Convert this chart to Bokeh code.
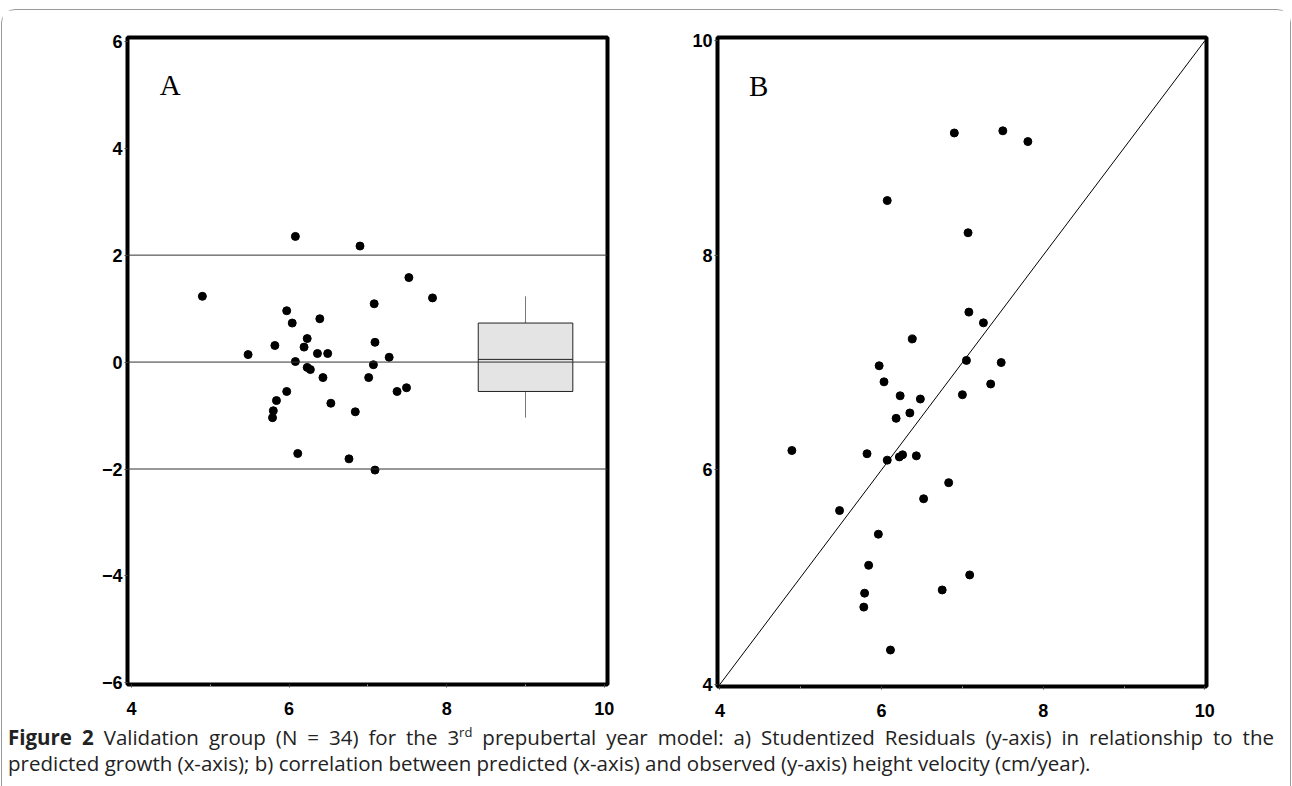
from bokeh.plotting import figure
from bokeh.layouts import row, column
from bokeh.models import FixedTicker, Span, Range1d, Div
from bokeh.core.properties import value
from bokeh.embed import file_html
from bokeh.resources import INLINE

# ---- data ----
resid_x = [6.08, 6.90, 7.52, 4.90, 7.82, 7.08, 5.97, 6.04, 6.39, 6.23, 5.82, 6.19, 7.09, 5.48, 6.36, 6.49, 7.27,
           6.08, 7.07, 6.23, 6.27, 6.43, 7.01, 5.97, 7.37, 7.49, 5.84, 6.53, 6.84, 5.80, 5.79, 6.11, 6.76, 7.09]
resid_y = [2.35, 2.17, 1.58, 1.23, 1.20, 1.09, 0.96, 0.73, 0.81, 0.44, 0.31, 0.28, 0.37, 0.14, 0.16, 0.16, 0.09,
           0.01, -0.05, -0.10, -0.14, -0.29, -0.29, -0.55, -0.55, -0.48, -0.72, -0.77, -0.93, -0.91, -1.04, -1.71,
           -1.81, -2.02]

pred_x = [6.03, 6.23, 6.48, 7.00, 7.35, 6.18, 6.35, 5.82, 6.07, 6.22, 6.26, 6.43, 6.83, 6.52, 5.96, 5.84, 7.09,
          6.75, 5.79, 5.78, 6.11, 6.90, 7.50, 7.81, 6.07, 7.07, 7.08, 7.26, 6.38, 5.97, 7.05, 7.48, 4.89, 5.48]
obs_y = [6.82, 6.69, 6.66, 6.70, 6.80, 6.48, 6.53, 6.15, 6.09, 6.12, 6.14, 6.13, 5.88, 5.73, 5.40, 5.11, 5.02,
         4.88, 4.85, 4.72, 4.32, 9.14, 9.16, 9.06, 8.51, 8.21, 7.47, 7.37, 7.22, 6.97, 7.02, 7.00, 6.18, 5.62]

# boxplot of residuals: whisker low, q1, median, q3, whisker high
box_stats = [-1.04, -0.55, 0.05, 0.73, 1.23]
box_center = 9.0
box_halfwidth = 0.6

ref_lines = [-2, 0, 2]
diag = [4, 10]

x_ticks = [4, 6, 8, 10]
x_minor = [5, 7, 9]
ya_ticks = [-6, -4, -2, 0, 2, 4, 6]
yb_ticks = [4, 6, 8, 10]

panel_labels = ["A", "B"]

caption_line1 = ("<b>Figure 2</b> Validation group (N = 34) for the 3<sup style='font-size:13px'>rd</sup> "
                 "prepubertal year model: a) Studentized Residuals (y-axis) in relationship to the")
caption_line2 = ("predicted growth (x-axis); b) correlation between predicted (x-axis) and observed (y-axis) "
                 "height velocity (cm/year).")

TICK_FONT = "Liberation Sans"


def style(p, yticks):
    p.xaxis.ticker = FixedTicker(ticks=x_ticks, minor_ticks=x_minor)
    p.yaxis.ticker = FixedTicker(ticks=yticks, minor_ticks=[])
    p.yaxis.major_label_overrides = {t: (("\u2212" + str(abs(t))) if t < 0 else str(t)) for t in yticks}
    for ax in (p.xaxis[0], p.yaxis[0]):
        ax.axis_line_color = None
        ax.major_tick_line_color = "#444444"
        ax.major_tick_line_width = 1
        ax.major_tick_out = 3
        ax.major_tick_in = 0
        ax.minor_tick_line_color = "#999999"
        ax.minor_tick_out = 2
        ax.minor_tick_in = 0
        ax.major_label_text_font = TICK_FONT
        ax.major_label_text_font_style = "bold"
        ax.major_label_text_font_size = "18px"
        ax.major_label_text_color = "black"
    p.xaxis.major_label_standoff = 14
    p.yaxis.major_label_standoff = 2
    p.xgrid.visible = False
    p.ygrid.visible = False
    p.outline_line_color = "black"
    p.outline_line_width = 4
    p.background_fill_color = "white"
    p.border_fill_color = "white"


# ---- Panel A ----
pA = figure(output_backend="svg", toolbar_location=None,
            frame_width=480, frame_height=647,
            min_border_left=125, min_border_right=53, min_border_top=27, min_border_bottom=35,
            x_range=Range1d(3.95, 10.04), y_range=Range1d(-6.03, 6.07))
style(pA, ya_ticks)
for yv in ref_lines:
    pA.add_layout(Span(location=yv, dimension="width", line_color="#333333", line_width=1))
# box plot
pA.segment(x0=[box_center, box_center], y0=[box_stats[3], box_stats[0]],
           x1=[box_center, box_center], y1=[box_stats[4], box_stats[1]],
           line_color="#777777", line_width=1)
pA.quad(left=[box_center - box_halfwidth], right=[box_center + box_halfwidth],
        bottom=[box_stats[1]], top=[box_stats[3]],
        fill_color="#e4e4e4", line_color="#222222", line_width=1)
pA.segment(x0=[box_center - box_halfwidth], y0=[box_stats[2]],
           x1=[box_center + box_halfwidth], y1=[box_stats[2]], line_color="#222222", line_width=1)
pA.scatter(resid_x, resid_y, size=8, fill_color="black", line_color="black")
pA.text(x=[4.36], y=[5.19], text=[panel_labels[0]], text_font=value("Liberation Serif"),
        text_font_size="29px", text_color="black", text_baseline="alphabetic", text_align="left")

# ---- Panel B ----
pB = figure(output_backend="svg", toolbar_location=None,
            frame_width=489, frame_height=649,
            min_border_left=57, min_border_right=84, min_border_top=25, min_border_bottom=35,
            x_range=Range1d(3.97, 10.02), y_range=Range1d(3.98, 10.03))
style(pB, yb_ticks)
pB.line(diag, diag, line_color="black", line_width=1)
pB.scatter(pred_x, obs_y, size=8, fill_color="black", line_color="black")
pB.text(x=[4.36], y=[9.58], text=[panel_labels[1]], text_font=value("Liberation Serif"),
        text_font_size="29px", text_color="black", text_baseline="alphabetic", text_align="left")

caption = Div(
    text=("<div style='display:block; width:1266px; text-align:justify; text-align-last:justify'>" + caption_line1 +
          "</div><div style='display:block; width:1266px'>" + caption_line2 + "</div>"),
    width=1282, height=80, margin=(0, 0, 0, 0),
    styles={"font-family": "'Open Sans', sans-serif", "font-size": "20.5px", "line-height": "26px",
            "color": "#222222", "padding-left": "6px"},
)

layout = column(row(pA, pB), caption,
                styles={"border": "1px solid #9a9a9a", "border-radius": "14px",
                        "margin-top": "9px", "margin-left": "1px"})
open("out.html", "w").write(file_html(layout, INLINE))
